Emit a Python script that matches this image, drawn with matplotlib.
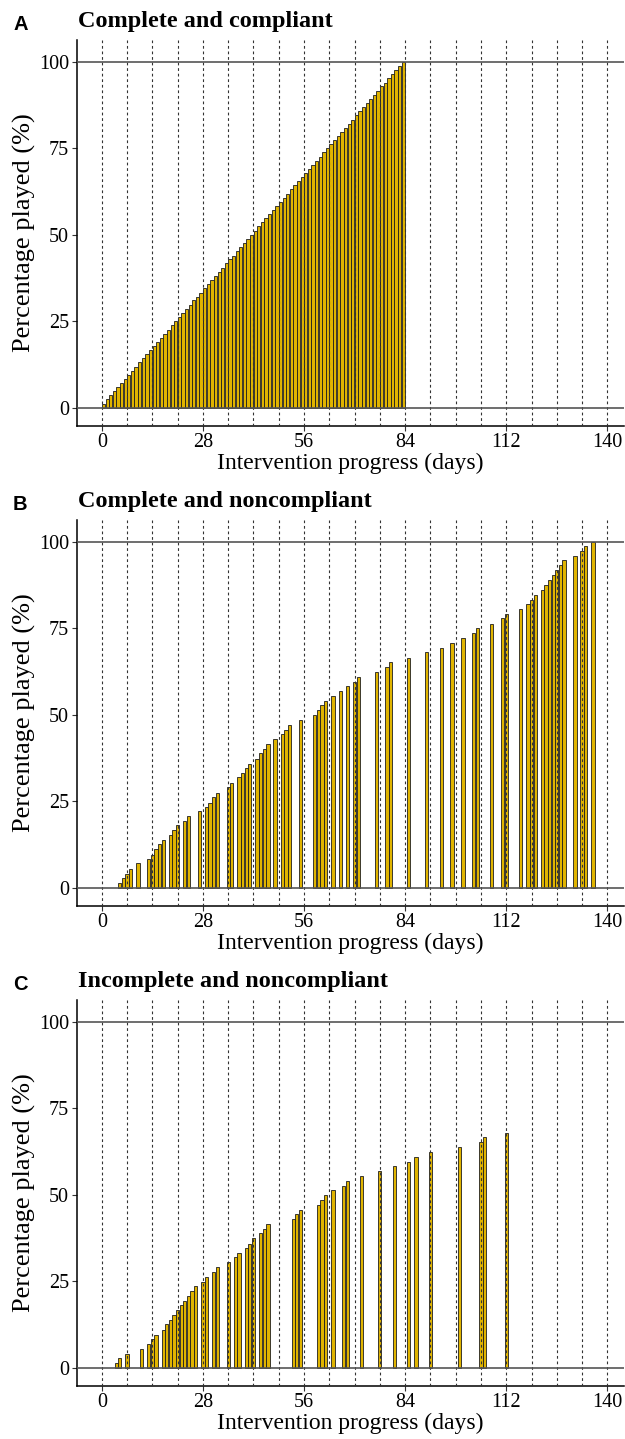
import matplotlib
matplotlib.use("Agg")
import matplotlib.pyplot as plt
import numpy as np

plt.rcParams['font.family'] = ['Liberation Serif', 'DejaVu Serif']

# --- data -------------------------------------------------------------
a_days = [1, 2, 3, 4, 5, 6, 7, 8, 9, 10, 11, 12, 13, 14, 15, 16, 17, 18, 19, 20,
          21, 22, 23, 24, 25, 26, 27, 28, 29, 30, 31, 32, 33, 34, 35, 36, 37, 38, 39, 40,
          41, 42, 43, 44, 45, 46, 47, 48, 49, 50, 51, 52, 53, 54, 55, 56, 57, 58, 59, 60,
          61, 62, 63, 64, 65, 66, 67, 68, 69, 70, 71, 72, 73, 74, 75, 76, 77, 78, 79, 80,
          81, 82, 83, 84]
a_pct = [1.2, 2.4, 3.6, 4.8, 6.0, 7.1, 8.3, 9.5, 10.7, 11.9, 13.1, 14.3, 15.5, 16.7,
         17.9, 19.0, 20.2, 21.4, 22.6, 23.8, 25.0, 26.2, 27.4, 28.6, 29.8, 31.0, 32.1, 33.3,
         34.5, 35.7, 36.9, 38.1, 39.3, 40.5, 41.7, 42.9, 44.0, 45.2, 46.4, 47.6, 48.8, 50.0,
         51.2, 52.4, 53.6, 54.8, 56.0, 57.1, 58.3, 59.5, 60.7, 61.9, 63.1, 64.3, 65.5, 66.7,
         67.9, 69.0, 70.2, 71.4, 72.6, 73.8, 75.0, 76.2, 77.4, 78.6, 79.8, 81.0, 82.1, 83.3,
         84.5, 85.7, 86.9, 88.1, 89.3, 90.5, 91.7, 92.9, 94.0, 95.2, 96.4, 97.6, 98.8, 100.0]

b_days = [5, 6, 7, 8, 10, 13, 14, 15, 16, 17, 19, 20, 21, 23, 24, 27, 29, 30, 31, 32,
          35, 36, 38, 39, 40, 41, 43, 44, 45, 46, 48, 50, 51, 52, 55, 59, 60, 61, 62, 64,
          66, 68, 70, 71, 76, 79, 80, 85, 90, 94, 97, 100, 103, 104, 108, 111, 112, 116,
          118, 119, 120, 122, 123, 124, 125, 126, 127, 128, 131, 133, 134, 136]
b_pct = [1.4, 2.8, 4.1, 5.5, 7.0, 8.3, 9.6, 11.1, 12.5, 13.8, 15.3, 16.7, 18.0, 19.3,
         20.8, 22.1, 23.3, 24.6, 26.1, 27.5, 29.0, 30.3, 32.0, 33.2, 34.5, 35.9, 37.3, 38.8,
         40.2, 41.5, 43.0, 44.3, 45.7, 47.1, 48.5, 49.8, 51.3, 52.7, 54.1, 55.4, 56.8, 58.3,
         59.6, 60.9, 62.4, 63.8, 65.2, 66.5, 68.0, 69.4, 70.8, 72.3, 73.6, 75.0, 76.3, 77.9,
         79.2, 80.6, 82.1, 83.3, 84.7, 86.1, 87.6, 89.0, 90.4, 91.8, 93.3, 94.6, 96.0, 97.4,
         98.7, 100.0]

c_days = [4, 5, 7, 11, 13, 14, 15, 17, 18, 19, 20, 21, 22, 23, 24, 25, 26, 28, 29, 31,
          32, 35, 37, 38, 40, 41, 42, 44, 45, 46, 53, 54, 55, 60, 61, 62, 64, 67, 68, 72,
          77, 81, 85, 87, 91, 99, 105, 106, 112]
c_pct = [1.4, 2.8, 4.0, 5.5, 6.9, 8.4, 9.6, 11.0, 12.5, 13.8, 15.2, 16.7, 18.1, 19.4,
         20.7, 22.1, 23.6, 24.9, 26.3, 27.8, 29.2, 30.5, 31.9, 33.2, 34.6, 35.9, 37.5, 38.8,
         40.2, 41.5, 43.0, 44.4, 45.7, 47.1, 48.5, 49.9, 51.3, 52.6, 54.0, 55.4, 56.9, 58.2,
         59.6, 61.0, 62.4, 63.9, 65.2, 66.6, 67.9]

panels = [
    ("A", "Complete and compliant", a_days, a_pct, -0.5),
    ("B", "Complete and noncompliant", b_days, b_pct, 0.0),
    ("C", "Incomplete and noncompliant", c_days, c_pct, 0.0),
]
week_lines = list(range(0, 141, 7))
x_ticks = [0, 28, 56, 84, 112, 140]
y_ticks = [0, 25, 50, 75, 100]

W, H = 625, 1439
fig = plt.figure(figsize=(W / 100, H / 100), dpi=100)

bar_fill = "#E0B400"
bar_edge = "#1e1e1e"

for i, (letter, title, days, pct, shift) in enumerate(panels):
    off = i * 480
    top, bottom = 40 + off, 425.7 + off
    left, right = 76.7, 624
    ax = fig.add_axes([left / W, 1 - bottom / H, (right - left) / W, (bottom - top) / H])

    ax.bar(np.array(days) + shift, pct, width=0.9, color=bar_fill,
           edgecolor=bar_edge, linewidth=0.6, zorder=2)

    # weekly guides drawn over the bars
    for d in week_lines:
        ax.axvline(d, color="#333333", lw=0.8, linestyle=(0, (2.5, 2.5)), zorder=4)
    for yv in (0, 100):
        ax.axhline(yv, color="#555555", lw=1.2, zorder=5)

    ax.set_xlim(-6.94, 144.6)
    ax.set_ylim(-5.2, 106.3)
    ax.set_xticks(x_ticks)
    ax.set_yticks(y_ticks)
    ax.tick_params(axis="both", direction="out", length=3.5, width=0.8,
                   color="#333333", labelsize=14.5, labelcolor="black", pad=2)
    for s in ("top", "right"):
        ax.spines[s].set_visible(False)
    for s in ("left", "bottom"):
        ax.spines[s].set_linewidth(1.1)
        ax.spines[s].set_color("black")

    ax.set_xlabel("Intervention progress (days)", fontsize=17, labelpad=0)
    ax.set_ylabel("Percentage played (%)", fontsize=19, labelpad=2)

    fig.text(13 / W, 1 - (25 + off) / H, letter, family=["Liberation Sans", "DejaVu Sans"],
             fontweight="bold", fontsize=14.5, va="center", ha="left")
    fig.text(78 / W, 1 - (22 + off) / H, title, fontweight="bold", fontsize=17.5,
             va="center", ha="left")

fig.savefig("out.png", dpi=100)
